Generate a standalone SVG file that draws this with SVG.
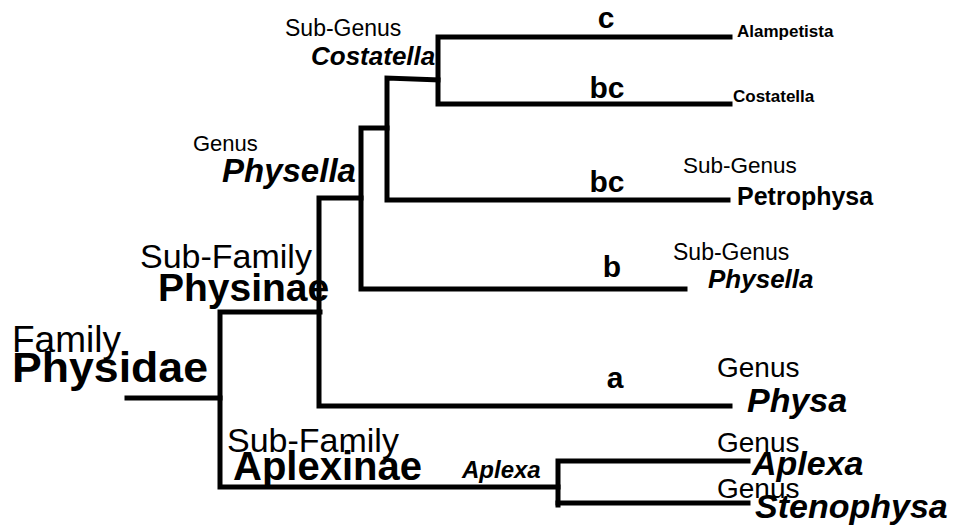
<svg xmlns="http://www.w3.org/2000/svg" width="953" height="527" viewBox="0 0 953 527">
<style>
text{font-family:"Liberation Sans",Arial,sans-serif;fill:#000}
.r{font-weight:normal}
.b{font-weight:bold}
.bi{font-weight:bold;font-style:italic}
.m{text-anchor:middle}
.ln{fill:none;stroke:#000;stroke-width:5;stroke-linecap:square;stroke-linejoin:miter}
</style>
<rect width="953" height="527" fill="#fff"/>
<g id="connectors">
<path class="ln" d="M127,398 H220"/>
<path class="ln" d="M320,312 H220 V487 H558"/>
<path class="ln" d="M730,406 H319 V198 H361"/>
<path class="ln" d="M685,289 H361 V128 H387"/>
<path class="ln" d="M728,200 H387 V78 L438,80"/>
<path class="ln" d="M730,37 H438 V104 H730"/>
<path class="ln" d="M748,461 H558 V505"/>
<path class="ln" d="M558,503 H748"/>
</g>
<g id="family"><text class="r" x="12" y="352" font-size="37">Family</text><text class="b" x="12" y="382" font-size="42" textLength="196" lengthAdjust="spacingAndGlyphs">Physidae</text></g>
<g id="physinae"><text class="r" x="140" y="268" font-size="34">Sub-Family</text><text class="b" x="158" y="301" font-size="39">Physinae</text></g>
<g id="aplexinae"><text class="r" x="227" y="452" font-size="34">Sub-Family</text><text class="b" x="233" y="480" font-size="40">Aplexinae</text></g>
<g id="genus-physella"><text class="r" x="193" y="151" font-size="22">Genus</text><text class="bi" x="222" y="182" font-size="33">Physella</text></g>
<g id="subgenus-costatella"><text class="r" x="285" y="36" font-size="23">Sub-Genus</text><text class="bi" x="311" y="65" font-size="26">Costatella</text></g>
<g id="labels">
<text class="b m" x="606" y="28" font-size="30">c</text>
<text class="b m" x="607" y="98" font-size="30">bc</text>
<text class="b m" x="607" y="192" font-size="30">bc</text>
<text class="b m" x="612" y="277" font-size="30">b</text>
<text class="b m" x="615" y="388" font-size="30">a</text>
</g>
<g id="alampetista"><text class="b" x="737" y="37" font-size="17">Alampetista</text></g>
<g id="costatella"><text class="b" x="733" y="102" font-size="17">Costatella</text></g>
<g id="petrophysa"><text class="r" x="683" y="173" font-size="22.5">Sub-Genus</text><text class="b" x="737" y="205" font-size="25">Petrophysa</text></g>
<g id="subgenus-physella"><text class="r" x="673" y="260" font-size="23">Sub-Genus</text><text class="bi" x="708" y="288" font-size="26">Physella</text></g>
<g id="physa"><text class="r" x="717" y="377" font-size="28">Genus</text><text class="bi" x="747" y="412" font-size="34">Physa</text></g>
<g id="aplexa-sg"><text class="bi" x="462" y="478" font-size="24">Aplexa</text></g>
<g id="aplexa"><text class="r" x="717" y="452" font-size="28">Genus</text><text class="bi" x="752" y="475" font-size="34">Aplexa</text></g>
<g id="stenophysa"><text class="r" x="717" y="498" font-size="28">Genus</text><text class="bi" x="755" y="518" font-size="34">Stenophysa</text></g>
</svg>
